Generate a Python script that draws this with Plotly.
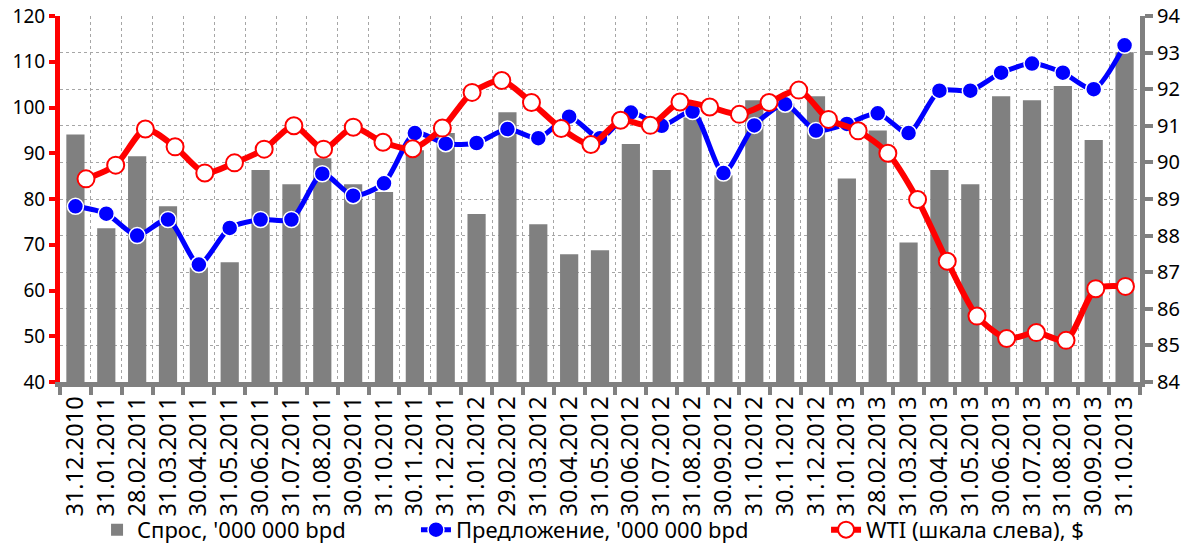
import plotly.graph_objects as go

dates = ["31.12.2010", "31.01.2011", "28.02.2011", "31.03.2011", "30.04.2011", "31.05.2011",
         "30.06.2011", "31.07.2011", "31.08.2011", "30.09.2011", "31.10.2011", "30.11.2011",
         "31.12.2011", "31.01.2012", "29.02.2012", "31.03.2012", "30.04.2012", "31.05.2012",
         "30.06.2012", "31.07.2012", "31.08.2012", "30.09.2012", "31.10.2012", "30.11.2012",
         "31.12.2012", "31.01.2013", "28.02.2013", "31.03.2013", "30.04.2013", "31.05.2013",
         "30.06.2013", "31.07.2013", "31.08.2013", "30.09.2013", "31.10.2013"]

demand = [90.76, 88.2, 90.17, 88.8, 87.13, 87.27, 89.79, 89.4, 90.11, 89.4, 89.19, 90.33,
          90.8, 88.59, 91.37, 88.31, 87.49, 87.6, 90.5, 89.79, 91.23, 89.65, 91.7, 91.61,
          91.81, 89.56, 90.87, 87.81, 89.79, 89.4, 91.81, 91.7, 92.09, 90.61, 93.01]

supply = [88.8, 88.6, 88.0, 88.44, 87.21, 88.21, 88.44, 88.44, 89.69, 89.09, 89.43, 90.8,
          90.51, 90.53, 90.91, 90.66, 91.25, 90.66, 91.36, 91.0, 91.39, 89.71, 91.01, 91.59,
          90.87, 91.05, 91.34, 90.8, 91.96, 91.96, 92.45, 92.7, 92.45, 92.0, 93.2]

wti = [84.4, 87.4, 95.3, 91.4, 85.7, 87.9, 90.9, 96.0, 90.9, 95.7, 92.4, 91.0,
       95.5, 103.3, 105.9, 101.1, 95.4, 91.9, 97.2, 96.1, 101.2, 100.1, 98.5, 101.1,
       103.8, 97.4, 94.9, 90.0, 79.9, 66.4, 54.4, 49.5, 50.8, 49.1, 60.4, 60.9]

FONT = "Noto Sans"
GRAY = "#808080"
GRID = "#a6a6a6"

fig = go.Figure()
fig.add_trace(go.Bar(
    x=dates, y=demand, name="Спрос, '000 000 bpd",
    marker=dict(color=GRAY, line=dict(width=0)),
    xaxis="x", yaxis="y", legend="legend",
))
fig.add_trace(go.Scatter(
    x=dates, y=supply, name="Предложение, '000 000 bpd",
    mode="lines+markers",
    line=dict(color="#0000FF", width=5, shape="spline", smoothing=0.7),
    marker=dict(color="#0000FF", size=16, line=dict(color="white", width=1.5)),
    xaxis="x", yaxis="y", legend="legend2",
))
fig.add_trace(go.Scatter(
    x=list(range(len(wti))), y=wti, name="WTI (шкала слева), $",
    mode="lines+markers",
    line=dict(color="#FF0000", width=6, shape="spline", smoothing=0.7),
    marker=dict(color="white", size=17, line=dict(color="#FF0000", width=2)),
    xaxis="x2", yaxis="y2", legend="legend3",
))

leg_common = dict(orientation="h", xanchor="left", y=-0.404, yanchor="middle",
                  font=dict(family=FONT, size=22, color="black"),
                  bgcolor="rgba(0,0,0,0)")

# the page adds an 8px body margin, so the figure is sized to fit the window
fig.update_layout(
    width=1184, height=541,
    margin=dict(l=52, r=52, t=8, b=167, autoexpand=False),
    paper_bgcolor="white", plot_bgcolor="white",
    font=dict(family=FONT, color="black", size=20),
    bargap=0.41,
    showlegend=True,
    legend=dict(x=0.0343, **leg_common),
    legend2=dict(x=0.3296, **leg_common),
    legend3=dict(x=0.7093, **leg_common),
    xaxis=dict(
        type="category", categoryorder="array", categoryarray=dates,
        range=[-0.5, len(dates) - 0.5],
        tickangle=-90, tickson="boundaries",
        ticks="outside", ticklen=8, tickwidth=4, tickcolor=GRAY,
        showline=True, linecolor=GRAY, linewidth=5,
        showgrid=True, gridcolor=GRID, griddash="3px,3px", gridwidth=1,
        tickfont=dict(family=FONT, size=23.5, color="black"),
        zeroline=False, automargin=False,
    ),
    xaxis2=dict(
        overlaying="x", anchor="y2", range=[-0.875, 35.49],
        visible=False, showgrid=False, zeroline=False,
    ),
    yaxis=dict(
        side="right", range=[84, 94], dtick=1,
        ticks="outside", ticklen=8, tickwidth=4, tickcolor=GRAY,
        showline=True, linecolor=GRAY, linewidth=5,
        showgrid=True, gridcolor=GRID, griddash="3px,3px", gridwidth=1,
        tickfont=dict(family=FONT, size=20, color="black"),
        zeroline=False, automargin=False, ticklabeloverflow="allow",
    ),
    yaxis2=dict(
        overlaying="y", side="left", anchor="x2", range=[40, 120], dtick=10,
        ticks="outside", ticklen=6, tickwidth=4, tickcolor="#FF0000",
        showline=True, linecolor="#FF0000", linewidth=5,
        showgrid=False, zeroline=False, automargin=False, ticklabeloverflow="allow",
        tickfont=dict(family=FONT, size=19, color="black"),
    ),
)

fig.write_html("out.html")
